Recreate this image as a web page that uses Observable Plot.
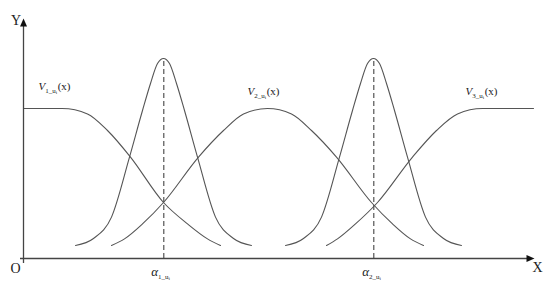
<!DOCTYPE html>
<html><head><meta charset="utf-8">
<script src="https://cdn.jsdelivr.net/npm/d3@7"></script>
<script src="https://cdn.jsdelivr.net/npm/@observablehq/plot@0.6"></script>
<style>body{margin:0;background:#fff}</style>
</head><body><div id="chart"></div>
<script>
// Curve samples (x in axis units, y in units of the tall peaks)
const v1X = [0, 38.7, 64, 84, 107, 140, 164, 184, 197];
const v1Y = [0.75, 0.75, 0.723, 0.64, 0.507, 0.28, 0.173, 0.098, 0.065];
const v2X = [88, 101, 119, 140, 175, 200, 220, 244, 268, 288, 313, 348, 369, 387, 400];
const v2Y = [0.065, 0.098, 0.173, 0.28, 0.507, 0.64, 0.723, 0.75, 0.723, 0.64, 0.507, 0.28, 0.173, 0.098, 0.065];
const v3X = [303, 314, 332, 354, 389, 413, 434, 459, 510];
const v3Y = [0.065, 0.098, 0.173, 0.28, 0.507, 0.64, 0.723, 0.75, 0.75];
const a1X = [52, 70, 88, 106, 119, 127, 134, 140, 146, 153, 161, 174, 192, 210, 228];
const a1Y = [0.065, 0.10, 0.207, 0.507, 0.74, 0.875, 0.975, 1.0, 0.975, 0.875, 0.74, 0.507, 0.207, 0.10, 0.065];
const a2X = [262, 280, 298, 316, 329, 337, 344, 350, 356, 363, 371, 384, 402, 420, 438];
const a2Y = [0.065, 0.10, 0.207, 0.507, 0.74, 0.875, 0.975, 1.0, 0.975, 0.875, 0.74, 0.507, 0.207, 0.10, 0.065];

const alphaX = [140.3, 350.3];
const alphaPeak = 1;
const axisXRange = [-3, 511];
const axisYRange = [-0.025, 1.2];

const vLabels = ["V|1_u|i|(x)", "V|2_u|i|(x)", "V|3_u|i|(x)"];
const vLabelX = [15, 224, 442];
const vLabelY = [0.845, 0.82, 0.82];
const aLabels = ["α|1_u|i", "α|2_u|i"];
const aLabelX = [137, 348];
const aLabelY = [-0.085, -0.085];
const axisNames = ["Y", "O", "X"];
const axisNameX = [-7.5, -8, 514];
const axisNameY = [1.19, -0.05, -0.045];

const series = [["V1", v1X, v1Y], ["V2", v2X, v2Y], ["V3", v3X, v3Y], ["A1", a1X, a1Y], ["A2", a2X, a2Y]];
const rows = series.flatMap(([name, xs, ys]) => xs.map((x, i) => ({series: name, x, y: ys[i]})));
const vLab = vLabels.map((t, i) => ({t, x: vLabelX[i], y: vLabelY[i]}));
const aLab = aLabels.map((t, i) => ({t, x: aLabelX[i], y: aLabelY[i]}));
const names = axisNames.map((t, i) => ({t, x: axisNameX[i], y: axisNameY[i]}));

const serif = "Liberation Serif, Times New Roman, serif";
const stroke = "#555";

// filled arrowheads (tip at the symbol origin)
const headUp = {draw(ctx) { ctx.moveTo(0, 0); ctx.lineTo(-3.5, 8); ctx.lineTo(3.5, 8); ctx.closePath(); }};
const headRight = {draw(ctx) { ctx.moveTo(0, 0); ctx.lineTo(-8, -3.5); ctx.lineTo(-8, 3.5); ctx.closePath(); }};

const svg = Plot.plot({
  width: 550,
  height: 287,
  marginLeft: 23,
  marginRight: 17,
  marginTop: 18,
  marginBottom: 29,
  x: {domain: [0, 510], axis: null},
  y: {domain: [0, 1.2], axis: null},
  style: {background: "#fff", fontFamily: serif},
  marks: [
    Plot.ruleX(alphaX, {x: d => d, y1: 0, y2: alphaPeak, stroke: "#444", strokeWidth: 1.1, strokeDasharray: "5,3"}),
    Plot.line(rows, {x: "x", y: "y", z: "series", curve: "monotone-x", stroke, strokeWidth: 1.1}),
    Plot.ruleY([0], {x1: axisXRange[0], x2: axisXRange[1] - 5, stroke: "#444", strokeWidth: 1.3}),
    Plot.ruleX([0], {y1: axisYRange[0], y2: axisYRange[1] - 0.025, stroke: "#444", strokeWidth: 1.3}),
    Plot.dot([{x: 0, y: axisYRange[1]}], {x: "x", y: "y", symbol: headUp, r: 3, fill: "#111", stroke: "none"}),
    Plot.dot([{x: axisXRange[1], y: 0}], {x: "x", y: "y", symbol: headRight, r: 3, fill: "#111", stroke: "none"}),
    Plot.text(names, {x: "x", y: "y", text: "t", fontSize: 14, fill: "#222", textAnchor: "middle"}),
    Plot.text(vLab, {x: "x", y: "y", text: "t", fontSize: 11, fill: "#222", textAnchor: "start", lineAnchor: "bottom"}),
    Plot.text(aLab, {x: "x", y: "y", text: "t", fontSize: 13, fill: "#222", textAnchor: "middle", lineAnchor: "bottom"})
  ]
});

d3.select(svg).selectAll("text").each(function() {
  if (!this.textContent.includes("|")) return;
  const parts = this.textContent.split("|");
  const t = d3.select(this);
  t.text(null);
  t.append("tspan").attr("font-style", "italic").text(parts[0]);
  t.append("tspan").attr("font-size", 7).attr("dy", 3).text(parts[1]);
  t.append("tspan").attr("font-size", 5).attr("dy", 1).text(parts[2]);
  if (parts[3]) t.append("tspan").attr("dy", -4).attr("dx", 0.5).text(parts[3]);
});

document.getElementById("chart").append(svg);
</script>
</body></html>
